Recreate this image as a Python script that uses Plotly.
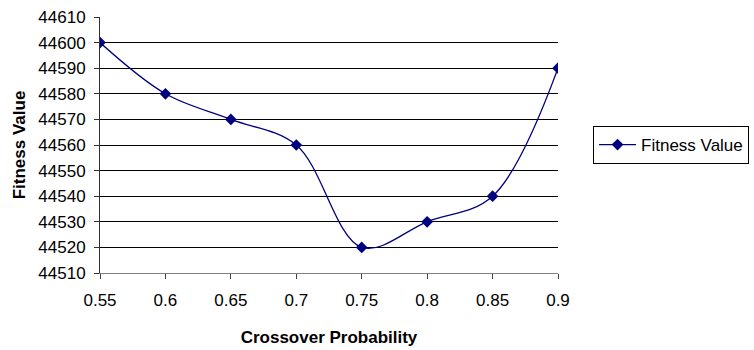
import plotly.graph_objects as go

crossover_prob = [0.55, 0.6, 0.65, 0.7, 0.75, 0.8, 0.85, 0.9]
fitness_value = [44600, 44580, 44570, 44560, 44520, 44530, 44540, 44590]
x_ticks = [0.55, 0.6, 0.65, 0.7, 0.75, 0.8, 0.85, 0.9]
x_tick_text = ["0.55", "0.6", "0.65", "0.7", "0.75", "0.8", "0.85", "0.9"]

navy = "#000080"
font_family = "Liberation Sans, Arial, sans-serif"
fsize = 17

fig = go.Figure()
fig.add_trace(go.Scatter(
    x=crossover_prob,
    y=fitness_value,
    mode="lines+markers",
    name="Fitness Value",
    line=dict(color=navy, width=1.3, shape="spline", smoothing=1.0),
    marker=dict(symbol="diamond", size=9, color=navy),
))

fig.update_layout(
    width=754,
    height=350,
    margin=dict(l=100, r=196, t=17, b=77, autoexpand=False),
    paper_bgcolor="white",
    plot_bgcolor="white",
    font=dict(family=font_family, size=fsize, color="black"),
    showlegend=True,
    legend=dict(
        x=1.0765, y=0.5, xanchor="left", yanchor="middle",
        bordercolor="black", borderwidth=1, bgcolor="white",
        itemwidth=37,
        font=dict(family=font_family, size=fsize, color="black"),
    ),
    xaxis=dict(
        range=[0.55, 0.9],
        tickvals=x_ticks,
        ticktext=x_tick_text,
        showgrid=False,
        zeroline=False,
        showline=True,
        linecolor="#808080",
        linewidth=1,
        ticks="outside",
        ticklen=5,
        tickcolor="#404040",
        ticklabelstandoff=7,
        title=dict(text="<b>Crossover Probability</b>", standoff=21,
                   font=dict(family=font_family, size=fsize)),
    ),
    yaxis=dict(
        range=[44510, 44610],
        dtick=10,
        tickformat="d",
        showgrid=True,
        gridcolor="black",
        gridwidth=1,
        zeroline=False,
        showline=True,
        linecolor="#303030",
        linewidth=1,
        ticks="outside",
        ticklen=5,
        tickcolor="#303030",
        ticklabelstandoff=5,
        title=dict(text="<b>Fitness Value</b>", standoff=8,
                   font=dict(family=font_family, size=fsize)),
    ),
)

fig.write_html("out.html")
